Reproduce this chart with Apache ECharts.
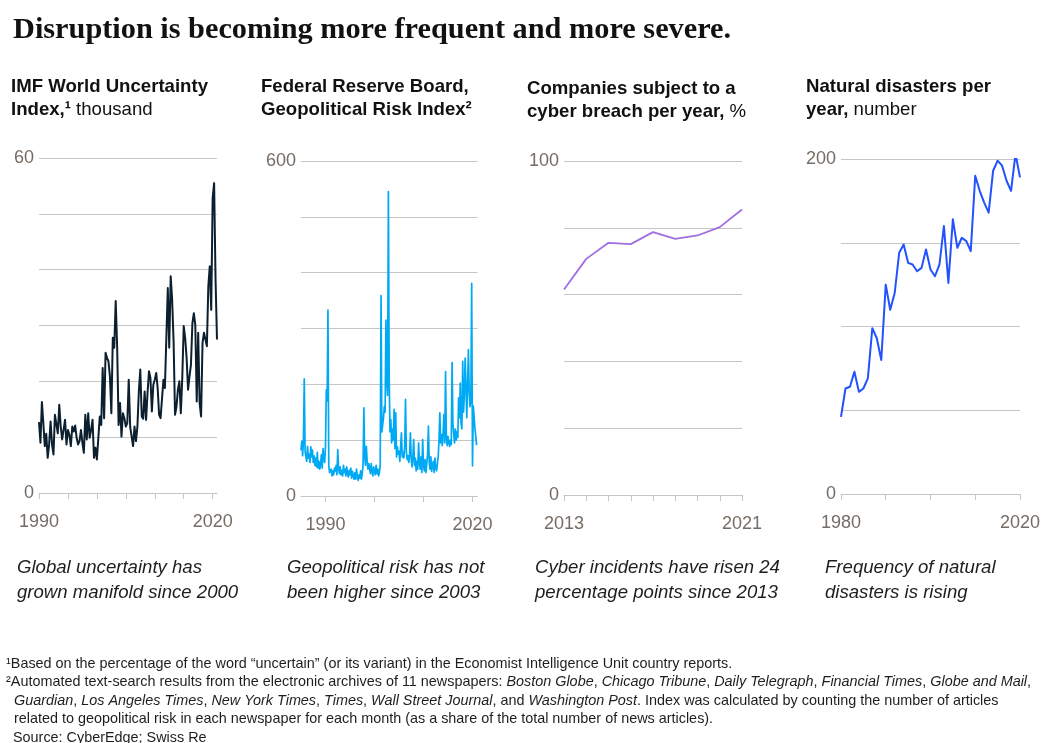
<!DOCTYPE html>
<html>
<head>
<meta charset="utf-8">
<script src="https://cdn.jsdelivr.net/npm/echarts@6/dist/echarts.min.js"></script>
<style>
  html, body { margin: 0; padding: 0; background: #ffffff; }
  #chart { width: 1043px; height: 743px; }
</style>
</head>
<body>
<div id="chart"></div>
<script>
// IMF World Uncertainty Index, thousand — quarterly, starting 1990 Q1
const uncertaintyStart = 1990;
const uncertaintyValues = [
  12.7, 9.0, 16.3, 12.5, 8.4, 10.6, 6.3, 8.7, 12.8, 8.7,
  6.9, 14.0, 13.7, 10.7, 15.8, 11.9, 9.6, 9.6, 13.1, 8.7,
  11.3, 10.4, 8.4, 11.9, 11.0, 12.1, 9.9, 8.7, 9.3, 11.3,
  9.0, 7.2, 14.0, 9.6, 14.3, 9.9, 11.3, 13.1, 6.3, 8.1,
  6.0, 5.7, 13.7, 12.2, 22.4, 13.4, 25.1, 24.2, 23.6, 20.9,
  14.3, 27.8, 26.0, 34.4, 26.3, 12.2, 16.1, 10.1, 14.3, 13.4,
  11.9, 12.5, 20.3, 11.9, 12.2, 8.4, 11.9, 9.3, 11.9, 18.2,
  22.1, 13.7, 13.3, 18.2, 13.1, 17.9, 21.8, 20.6, 14.6, 19.4,
  20.3, 21.5, 18.8, 14.0, 13.4, 13.7, 20.3, 18.8, 19.1, 36.7,
  26.0, 38.8, 34.6, 27.2, 14.0, 15.5, 18.5, 20.0, 14.3, 20.6,
  29.9, 27.8, 24.2, 18.5, 20.9, 23.0, 30.4, 32.2, 30.1, 16.4,
  28.7, 16.1, 13.7, 26.9, 28.7, 28.7, 26.3, 37.0, 40.6, 32.8,
  52.8, 55.5, 38.2, 27.5
];
const uncertaintyXTicks = [1990, 1995, 2000, 2005, 2010, 2015, 2020];
const uncertaintyXLabels = [1990, 2020];
const uncertaintyYLabels = [0, 60];

// Geopolitical Risk Index — one reading every two months, starting Jan 1985
const gprStart = 1985;
const gprValues = [
  82, 98, 72, 100, 210, 80,      // 1985
  70, 62, 89, 68, 75, 60,        // 1986
  88, 70, 82, 60, 72, 55,        // 1987
  68, 52, 78, 50, 62, 48,        // 1988
  58, 74, 50, 85, 66, 60,        // 1989
  89, 190, 170, 333, 55, 42,     // 1990
  40, 48, 36, 45, 38, 50,        // 1991
  44, 55, 38, 83, 50, 40,        // 1992
  52, 38, 46, 36, 55, 42,        // 1993
  48, 36, 52, 40, 34, 46,        // 1994
  38, 50, 32, 44, 36, 30,        // 1995
  42, 30, 48, 34, 28, 38,        // 1996
  32, 45, 30, 40, 55, 158,       // 1997
  70, 55, 89, 62, 48, 58,        // 1998
  50, 40, 58, 45, 36, 52,        // 1999
  44, 38, 55, 40, 48, 36,        // 2000
  42, 55, 359, 115, 113, 140,    // 2001
  160, 150, 315, 208, 180, 545,  // 2002
  211, 115, 137, 95, 120, 100,   // 2003
  155, 85, 149, 70, 88, 75,      // 2004
  80, 62, 90, 113, 70, 78,       // 2005
  68, 90, 173, 80, 65, 72,       // 2006
  60, 75, 113, 65, 52, 70,       // 2007
  101, 55, 68, 45, 62, 48,       // 2008
  95, 60, 48, 70, 42, 101,       // 2009
  55, 45, 65, 42, 58, 75,        // 2010
  125, 60, 48, 70, 44, 55,       // 2011
  62, 42, 68, 50, 45, 58,        // 2012
  70, 100, 149, 95, 110, 90,     // 2013
  113, 146, 95, 223, 105, 90,    // 2014
  107, 95, 89, 100, 92, 239,     // 2015
  131, 110, 95, 120, 100, 115,   // 2016
  105, 176, 140, 202, 130, 120,  // 2017
  241, 150, 180, 247, 196, 140,  // 2018
  200, 262, 185, 160, 170, 381,  // 2019
  54, 161, 140, 120, 107, 91     // 2020
];
const gprXTicks = [1990, 2000, 2010, 2020];
const gprXLabels = [1990, 2020];
const gprYLabels = [0, 600];

// Companies subject to a cyber breach per year, %
const cyberYears = [2013, 2014, 2015, 2016, 2017, 2018, 2019, 2020, 2021];
const cyberValues = [61.5, 70.7, 75.5, 75.1, 78.7, 76.7, 77.7, 80.2, 85.5];
const cyberXLabels = [2013, 2021];
const cyberYLabels = [0, 100];

// Natural disasters per year, number
const disasterYears = [
  1980, 1981, 1982, 1983, 1984, 1985, 1986, 1987, 1988, 1989,
  1990, 1991, 1992, 1993, 1994, 1995, 1996, 1997, 1998, 1999,
  2000, 2001, 2002, 2003, 2004, 2005, 2006, 2007, 2008, 2009,
  2010, 2011, 2012, 2013, 2014, 2015, 2016, 2017, 2018, 2019, 2020
];
const disasterValues = [
  46, 63, 64, 73, 61, 63, 69, 99, 93, 80,
  125, 110, 120, 144, 149, 138, 137, 133, 135, 146,
  134, 130, 137, 160, 126, 164, 147, 153, 151, 145,
  190, 181, 174, 168, 193, 199, 196, 187, 181, 203, 189
];
const disasterXTicks = [1980, 1990, 2000, 2010, 2020];
const disasterXLabels = [1980, 2020];
const disasterYLabels = [0, 200];

const SANS = '"Liberation Sans", Arial, sans-serif';
const SERIF = '"Liberation Serif", "Times New Roman", serif';
const AXIS_GREY = '#c6c6c6';
const LABEL_GREY = '#756c65';
const INK = '#111111';

function xAxisFor(gridIndex, min, max, ticks, labels) {
  return {
    type: 'value', gridIndex, min, max,
    axisLine: { show: true, lineStyle: { color: AXIS_GREY, width: 1 } },
    axisTick: { show: true, customValues: ticks, length: 6, lineStyle: { color: AXIS_GREY, width: 1 } },
    axisLabel: {
      customValues: labels, margin: 20, fontSize: 18, fontFamily: SANS, color: LABEL_GREY,
      formatter: v => String(v)
    },
    splitLine: { show: false }
  };
}

function yAxisFor(gridIndex, max, interval, labels) {
  return {
    type: 'value', gridIndex, min: 0, max, interval,
    axisLine: { show: false },
    axisTick: { show: false },
    axisLabel: {
      margin: 5, fontSize: 18, fontFamily: SANS, color: LABEL_GREY,
      formatter: v => (labels.indexOf(v) >= 0 ? String(v) : '')
    },
    splitLine: { show: true, lineStyle: { color: AXIS_GREY, width: 1 } }
  };
}

function lineSeries(index, data, color, width) {
  return {
    type: 'line', xAxisIndex: index, yAxisIndex: index,
    data, showSymbol: false, symbol: 'none', smooth: false,
    lineStyle: { color, width, join: 'round' },
    itemStyle: { color },
    silent: true
  };
}

const boldStyle = { fontFamily: SANS, fontSize: 18.6, fontWeight: 'bold', color: INK, lineHeight: 22.5 };
const regStyle = { fontFamily: SANS, fontSize: 18.6, fontWeight: 'normal', color: INK, lineHeight: 22.5 };

function panelTitle(left, top, text) {
  return {
    left, top, padding: 0, text,
    textStyle: { fontFamily: SANS, fontSize: 18.6, fontWeight: 'bold', color: INK, lineHeight: 22.5,
      rich: { b: boldStyle, r: regStyle } }
  };
}

const captionStyle = { fontFamily: SANS, fontSize: 18.6, fontStyle: 'italic', fontWeight: 'normal', color: '#1e1e1e', lineHeight: 25 };
function caption(left, text) {
  return { left, top: 555, padding: 0, text, textStyle: captionStyle };
}

const noteN = { fontFamily: SANS, fontSize: 14.4, fontStyle: 'normal', fontWeight: 'normal', color: '#1e1e1e', lineHeight: 18.5 };
const noteI = { fontFamily: SANS, fontSize: 14.4, fontStyle: 'italic', fontWeight: 'normal', color: '#1e1e1e', lineHeight: 18.5 };
function note(left, top, text) {
  return { left, top, padding: 0, text, textStyle: Object.assign({}, noteN, { rich: { n: noteN, i: noteI } }) };
}

const option = {
  animation: false,
  backgroundColor: '#ffffff',
  title: [
    { left: 13, top: 12, padding: 0, text: 'Disruption is becoming more frequent and more severe.',
      textStyle: { fontFamily: SERIF, fontSize: 30.3, fontWeight: 'bold', color: INK, lineHeight: 36 } },
    panelTitle(11, 76, '{b|IMF World Uncertainty}\n{b|Index,¹}{r| thousand}'),
    panelTitle(261, 76, '{b|Federal Reserve Board,}\n{b|Geopolitical Risk Index²}'),
    panelTitle(527, 78, '{b|Companies subject to a}\n{b|cyber breach per year,}{r| %}'),
    panelTitle(806, 76, '{b|Natural disasters per}\n{b|year,}{r| number}'),
    caption(17, 'Global uncertainty has\ngrown manifold since 2000'),
    caption(287, 'Geopolitical risk has not\nbeen higher since 2003'),
    caption(535, 'Cyber incidents have risen 24\npercentage points since 2013'),
    caption(825, 'Frequency of natural\ndisasters is rising'),
    note(6, 654.5, '{n|¹Based on the percentage of the word “uncertain” (or its variant) in the Economist Intelligence Unit country reports.}'),
    note(6, 673, '{n|²Automated text-search results from the electronic archives of 11 newspapers: }{i|Boston Globe}{n|, }{i|Chicago Tribune}{n|, }{i|Daily Telegraph}{n|, }{i|Financial Times}{n|, }{i|Globe and Mail}{n|,}'),
    note(14, 691.5, '{i|Guardian}{n|, }{i|Los Angeles Times}{n|, }{i|New York Times}{n|, }{i|Times}{n|, }{i|Wall Street Journal}{n|, and }{i|Washington Post}{n|. Index was calculated by counting the number of articles}'),
    note(14, 710, '{n|related to geopolitical risk in each newspaper for each month (as a share of the total number of news articles).}'),
    note(13, 728.5, '{n|Source: CyberEdge; Swiss Re}')
  ],
  grid: [
    { left: 39, top: 158, width: 178, height: 335 },
    { left: 301, top: 161, width: 176.4, height: 335 },
    { left: 564, top: 161, width: 178, height: 334 },
    { left: 841, top: 159, width: 179, height: 335 }
  ],
  xAxis: [
    xAxisFor(0, uncertaintyStart, uncertaintyStart + (uncertaintyValues.length - 1) / 4, uncertaintyXTicks, uncertaintyXLabels),
    xAxisFor(1, gprStart, 2021, gprXTicks, gprXLabels),
    xAxisFor(2, cyberYears[0], cyberYears[cyberYears.length - 1], cyberYears, cyberXLabels),
    xAxisFor(3, disasterYears[0], disasterYears[disasterYears.length - 1], disasterXTicks, disasterXLabels)
  ],
  yAxis: [
    yAxisFor(0, 60, 10, uncertaintyYLabels),
    yAxisFor(1, 600, 100, gprYLabels),
    yAxisFor(2, 100, 20, cyberYLabels),
    yAxisFor(3, 200, 50, disasterYLabels)
  ],
  series: [
    lineSeries(0, uncertaintyValues.map((v, i) => [uncertaintyStart + i / 4, v]), '#0b1f2e', 2),
    lineSeries(1, gprValues.map((v, i) => [gprStart + i / 6, v]), '#00a9f4', 1.7),
    lineSeries(2, cyberValues.map((v, i) => [cyberYears[i], v]), '#a06ee1', 1.8),
    lineSeries(3, disasterValues.map((v, i) => [disasterYears[i], v]), '#2251ff', 2)
  ]
};

const chart = echarts.init(document.getElementById('chart'), null, { renderer: 'canvas' });
chart.setOption(option);
</script>
</body>
</html>
